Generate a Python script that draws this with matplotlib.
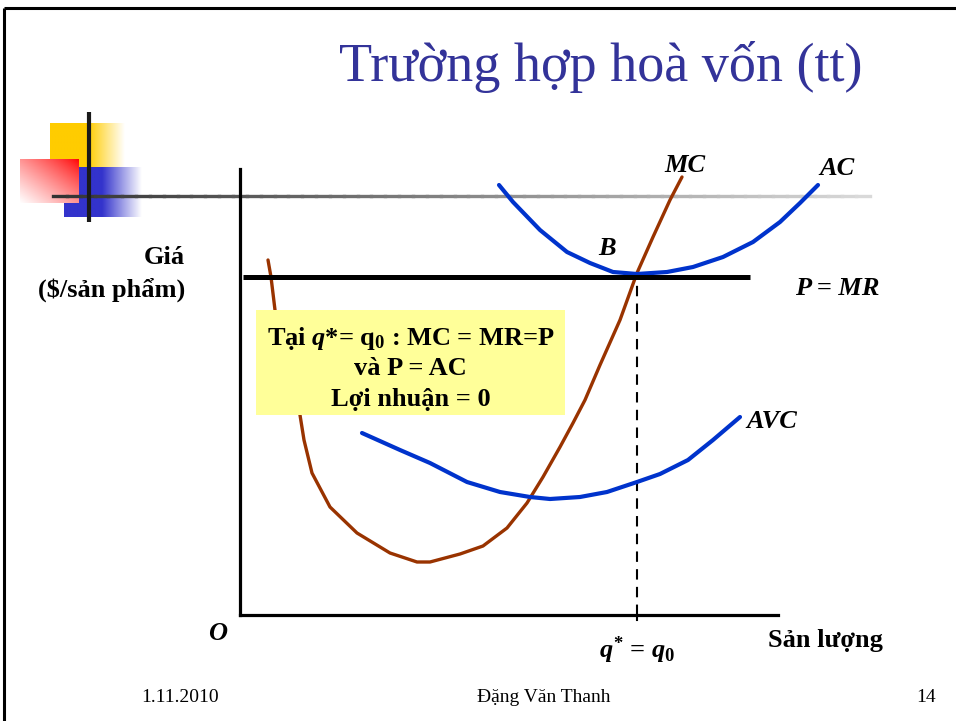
import numpy as np
import matplotlib
matplotlib.use('Agg')
import matplotlib.pyplot as plt
from matplotlib.patches import Rectangle
from matplotlib.collections import LineCollection

# ── FUENTES ─────────────────────────────────────────────
plt.rcParams['font.family'] = ['Liberation Serif', 'DejaVu Serif']
plt.rcParams['mathtext.fontset'] = 'custom'
plt.rcParams['mathtext.rm'] = 'Liberation Serif:bold'
plt.rcParams['mathtext.it'] = 'Liberation Serif:italic:bold'
plt.rcParams['mathtext.bf'] = 'Liberation Serif:bold'

# ── DATOS (cantidad q, precio p) ────────────────────────
mc_q = [0.56, 0.62, 0.70, 0.80, 1.00, 1.20, 1.28, 1.44, 1.80, 2.34, 3.00, 3.54,
        3.80, 4.40, 4.86, 5.34, 5.74, 6.06, 6.40, 6.66, 6.90, 7.20, 7.60, 7.94,
        8.26, 8.60, 8.84]
mc_p = [7.10, 6.76, 6.10, 5.50, 4.70, 4.00, 3.50, 2.84, 2.16, 1.64, 1.24, 1.06,
        1.06, 1.22, 1.38, 1.74, 2.24, 2.76, 3.36, 3.84, 4.30, 5.00, 5.90, 6.84,
        7.56, 8.30, 8.76]

ac_q = [5.18, 5.46, 6.00, 6.54, 7.00, 7.46, 7.94, 8.54, 9.06, 9.66, 10.26,
        10.80, 11.20, 11.56]
ac_p = [8.60, 8.26, 7.70, 7.26, 7.04, 6.86, 6.82, 6.86, 6.96, 7.16, 7.46,
        7.86, 8.24, 8.60]

avc_q = [2.44, 3.20, 3.80, 4.54, 5.20, 5.80, 6.20, 6.80, 7.34, 7.94, 8.40,
         8.96, 9.46, 10.00]
avc_p = [3.64, 3.30, 3.04, 2.66, 2.46, 2.36, 2.32, 2.36, 2.46, 2.66, 2.82,
         3.10, 3.50, 3.96]

precio = 6.76          # P = MR
mr_q = [0.06, 10.20]   # extremos de la recta P = MR
q0 = 7.94              # q* = q0

lineas_caja = ['Tại $q$*= q$_0$ : MC = MR=P', 'và P = AC', 'Lợi nhuận = 0']

# ── COLORES ─────────────────────────────────────────────
AZUL = '#0033CC'
MARRON = '#993300'
TITULO = '#333399'
CAJA = '#FFFF99'

W, H = 956, 721
fig = plt.figure(figsize=(W / 100, H / 100), dpi=100)

# ── FONDO DE LA DIAPOSITIVA (coordenadas en píxeles) ────
bg = fig.add_axes([0, 0, 1, 1])
bg.set_xlim(0, W)
bg.set_ylim(H, 0)
bg.axis('off')

# marco superior e izquierdo
bg.plot([4, W], [8, 8], color='black', lw=2.2, solid_capstyle='butt')
bg.plot([4, 4], [8, H], color='black', lw=2.2, solid_capstyle='butt')


def degradado(color, x0, x1, y0, y1, x_fade):
    n = 200
    xs = np.linspace(x0, x1, n)
    t = np.clip((xs - x_fade) / (x1 - x_fade), 0, 1)
    c = np.array(matplotlib.colors.to_rgb(color))
    rgb = c[None, :] * (1 - t[:, None]) + t[:, None]
    img = rgb[None, :, :]
    bg.imshow(img, extent=(x0, x1, y1, y0), origin='upper', aspect='auto',
              interpolation='bilinear', zorder=1)


# cuadrados decorativos
degradado('#FFCC00', 50, 125, 123, 167, 88)
degradado('#3333CC', 64, 142, 167, 217, 102)

n = 120
u = np.linspace(0, 1, n)
xx, yy = np.meshgrid(u, u)
s = np.clip(((1 - xx) + yy) / 2, 0, 1) ** 0.8
rojo = np.stack([np.ones_like(s), s, s], axis=-1)
bg.imshow(rojo, extent=(20, 79, 203, 159), origin='upper', aspect='auto',
          interpolation='bilinear', zorder=2)

# línea horizontal gris con degradado
gx = np.linspace(53, 870, 60)
segs = [[(gx[i], 196), (gx[i + 1], 196)] for i in range(len(gx) - 1)]
grises = [str(0.2 + 0.65 * i / (len(gx) - 2)) for i in range(len(gx) - 1)]
bg.add_collection(LineCollection(segs, colors=grises, linewidths=2.4,
                                 zorder=3, capstyle='projecting'))
bg.plot([89, 89], [112, 222], color='#1a1a1a', lw=3, zorder=4,
        solid_capstyle='butt')

# título y pie
bg.text(601, 67, 'Trường hợp hoà vốn (tt)', fontsize=39, color=TITULO,
        ha='center', va='center')
bg.text(180, 697, '1.11.2010', fontsize=14, ha='center', va='center')
bg.text(544, 697, 'Đặng Văn Thanh', fontsize=14, ha='center', va='center')
bg.text(926, 697, '14', fontsize=14, ha='center', va='center')

# etiquetas del eje vertical
bg.text(185, 258, 'Giá', fontsize=19, fontweight='bold', ha='right',
        va='center')
bg.text(185, 290, r'(\$/sản phẩm)', fontsize=19, fontweight='bold',
        ha='right', va='center')

# ── GRÁFICA ─────────────────────────────────────────────
ax = fig.add_axes([240 / W, (H - 615) / H, 538 / W, 446 / H])
ax.set_xlim(0, 10.76)
ax.set_ylim(0, 8.92)
ax.patch.set_visible(False)
for lado in ['top', 'right']:
    ax.spines[lado].set_visible(False)
for lado in ['left', 'bottom']:
    ax.spines[lado].set_linewidth(2.3)
    ax.spines[lado].set_capstyle('projecting')
ax.set_xticks([])
ax.set_yticks([])

ax.plot(mc_q, mc_p, color=MARRON, lw=2.4, clip_on=False, zorder=2,
        solid_capstyle='round', solid_joinstyle='round')
ax.plot(ac_q, ac_p, color=AZUL, lw=3, clip_on=False, zorder=3,
        solid_capstyle='round', solid_joinstyle='round')
ax.plot(avc_q, avc_p, color=AZUL, lw=3, clip_on=False, zorder=3,
        solid_capstyle='round', solid_joinstyle='round')
ax.plot(mr_q, [precio, precio], color='black', lw=3.6, clip_on=False,
        zorder=4, solid_capstyle='butt')
ax.plot([q0, q0], [0, precio], color='black', lw=1.5, ls=(0, (5, 3.5)),
        zorder=1)
ax.plot([q0, q0], [-0.09, 0], color='black', lw=1.5, clip_on=False)

# cuadro amarillo
ax.add_patch(Rectangle((0.32, 4.0), 6.18, 2.1, facecolor=CAJA,
                       edgecolor='none', zorder=5))
for i, linea in enumerate(lineas_caja):
    ax.text(3.41, 5.6 - 0.62 * i, linea, fontsize=19, fontweight='bold',
            ha='center', va='center_baseline', zorder=6)

# rótulos de las curvas
rot = dict(fontsize=19, fontweight='bold', style='italic', va='center',
           ha='center')
ax.text(8.9, 9.0, 'MC', clip_on=False, **rot)
ax.text(11.94, 8.94, 'AC', clip_on=False, **rot)
ax.text(7.34, 7.34, 'B', **rot)
ax.text(11.94, 6.54, 'P = MR', clip_on=False, **rot)
ax.text(10.64, 3.88, 'AVC', clip_on=False, **rot)
ax.text(-0.44, -0.36, 'O', clip_on=False, **rot)
ax.text(q0, -0.7, r'$q^{*}$ = $q_{\mathit{0}}$', fontsize=19,
        fontweight='bold', ha='center', va='center', clip_on=False)
ax.text(11.7, -0.5, 'Sản lượng', fontsize=19, fontweight='bold',
        ha='center', va='center', clip_on=False)

fig.savefig('out.png', dpi=100)
